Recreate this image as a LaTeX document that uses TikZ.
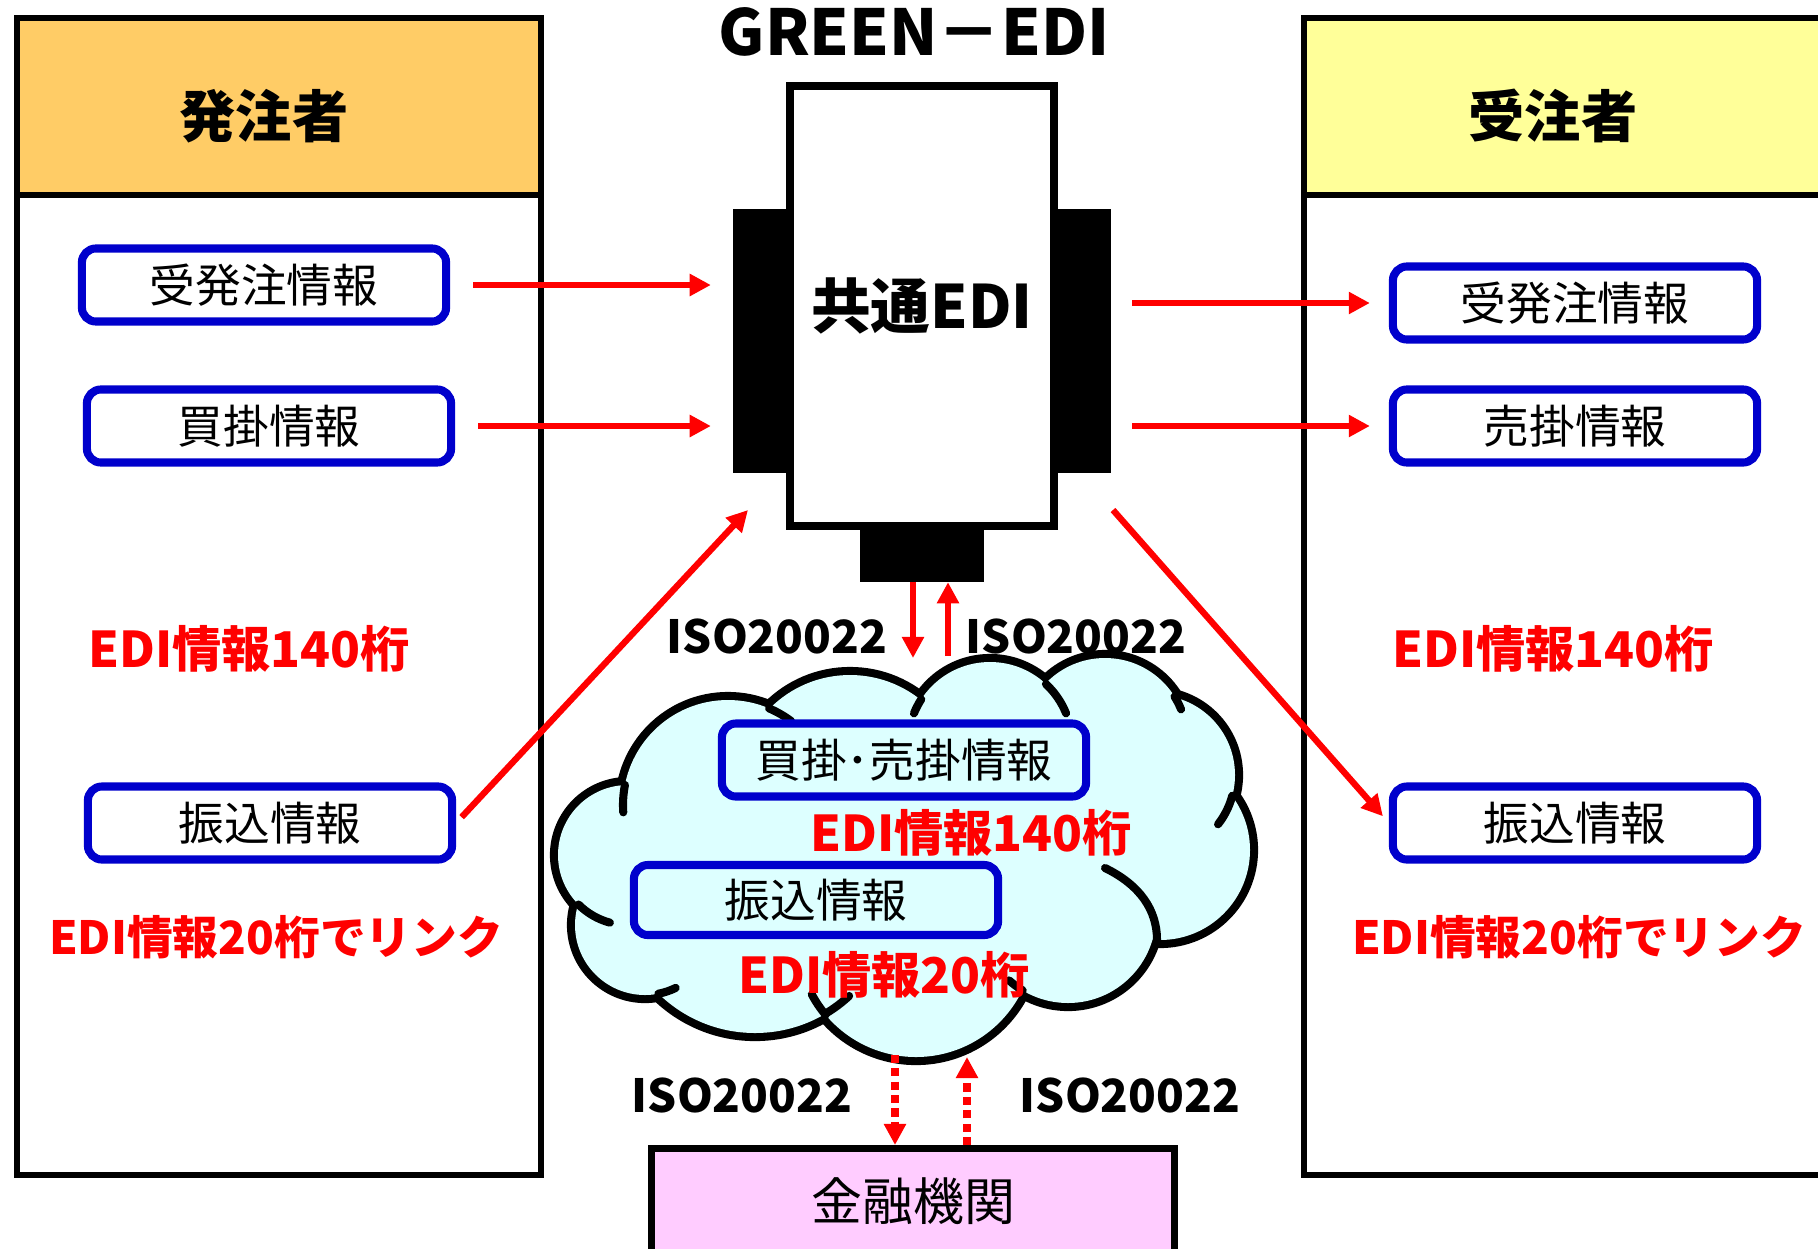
\documentclass[tikz,border=0pt]{standalone}
\usepackage{fontspec}
\usetikzlibrary{arrows.meta}
\newfontfamily\jp{Noto Sans CJK JP}
\definecolor{ordhead}{RGB}{255,204,102}
\definecolor{rcvhead}{RGB}{255,255,153}
\definecolor{infoblue}{RGB}{0,0,204}
\definecolor{cloudfill}{RGB}{221,255,255}
\definecolor{bankpink}{RGB}{255,204,255}
% puffs of the cloud: x/y/radius
\newcommand{\cloudpuffs}{728/805/105, 850/788/113, 990/744/82, 1105/740/82, 1155/775/80, 1160/850/90, 1068/915/88, 916/939/118, 755/895/138, 645/925/70, 628/855/70, 950/850/130}
% creases: x/y/radius/from/to
\newcommand{\cloudcreases}{728/805/105/-67/-53, 990/744/82/-147/-158, 990/744/82/-47/-22, 1105/740/82/-32/-22, 1155/775/80/15/38, 1068/915/88/121/132, 916/939/118/140/152, 755/895/138/59/47, 645/925/70/79/64, 628/855/70/135/105, 728/805/105/191/176}
\tikzset{
  panel/.style={draw, line width=1.7pt},
  headtext/.style={font=\jp\bfseries\fontsize{16}{16}\selectfont},
  infobox/.style={draw=infoblue, line width=2.3pt, rounded corners=4pt, minimum width=3.64cm, minimum height=0.73cm, inner sep=0pt, font=\jp\fontsize{13}{13}\selectfont},
  redlabel/.style={text=red, font=\jp\bfseries\fontsize{14}{14}\selectfont},
  linklabel/.style={redlabel, font=\jp\bfseries\fontsize{13}{13}\selectfont},
  isolabel/.style={font=\jp\bfseries\fontsize{13}{13}\selectfont},
  tab/.style={fill=black, inner sep=0pt, outer sep=0pt},
  flow/.style={red, line width=1.8pt, -{Triangle[length=6pt,width=6pt]}},
  dotflow/.style={flow, line width=2pt, dash pattern=on 2.3pt off 1.5pt},
  cloudline/.style={line width=2.3pt, line cap=round},
}
\begin{document}
\begin{tikzpicture}[x=0.01cm, y=-0.01cm]
\useasboundingbox[fill=white] (0,0) rectangle (1818,1248);

%ordering side
\fill[ordhead] (17,18) rectangle (541,195);
\draw[panel] (17,18) rectangle (541,1175);
\draw[panel] (17,195) -- (541,195);
\node[headtext] (orderer) at (264,116) {発注者};
\node[infobox] (ordA) at (264,285) {受発注情報};
\node[infobox] (ordB) at (269,426) {買掛情報};
\node[infobox] (ordC) at (270,823) {振込情報};
\node[redlabel] (ordEdiA) at (249,649) {EDI情報140桁};
\node[linklabel] (ordEdiB) at (276,937) {EDI情報20桁でリンク};

%receiving side
\fill[rcvhead] (1304,18) rectangle (1830,195);
\draw[panel] (1304,18) rectangle (1830,1175);
\draw[panel] (1304,195) -- (1830,195);
\node[headtext] (receiver) at (1553,116) {受注者};
\node[infobox] (rcvA) at (1575,303) {受発注情報};
\node[infobox] (rcvB) at (1575,426) {売掛情報};
\node[infobox] (rcvC) at (1575,823) {振込情報};
\node[redlabel] (rcvEdiA) at (1553,649) {EDI情報140桁};
\node[linklabel] (rcvEdiB) at (1579,937) {EDI情報20桁でリンク};

%GREEN-EDI hub
\node[font=\jp\bfseries\fontsize{18}{18}\selectfont] (title) at (914,32) {GREEN－EDI};
\node[draw, fill=white, line width=2.3pt, minimum width=2.64cm, minimum height=4.40cm, inner sep=0pt,
      font=\jp\bfseries\fontsize{17}{17}\selectfont] (edi) at (922,306) {共通EDI};
\node[tab, minimum width=0.53cm, minimum height=2.64cm, anchor=east] (tabL) at ([yshift=-0.35cm]edi.west) {};
\node[tab, minimum width=0.53cm, minimum height=2.64cm, anchor=west] (tabR) at ([yshift=-0.35cm]edi.east) {};
\node[tab, minimum width=1.23cm, minimum height=0.52cm, anchor=north] (tabB) at (edi.south) {};

%cloud
\foreach \cx/\cy/\rad in \cloudpuffs
  \draw[line width=4.6pt] (\cx,\cy) circle[radius=\rad];
\foreach \cx/\cy/\rad in \cloudpuffs
  \fill[cloudfill] (\cx,\cy) circle[radius=\rad];
\foreach \cx/\cy/\rad/\a/\b in \cloudcreases
  \draw[cloudline] (\cx,\cy) ++(\a:\rad) arc[start angle=\a, end angle=\b, radius=\rad];
\draw[cloudline] (1105,868) .. controls (1140,885) and (1157,910) .. (1157,940);
\node[infobox] (netA) at (904,760) {買掛･売掛情報};
\node[infobox, minimum height=0.70cm] (netB) at (816,900) {振込情報};
\node[redlabel] (netEdiA) at (971,833) {EDI情報140桁};
\node[redlabel] (netEdiB) at (884,975) {EDI情報20桁};

%bank
\node[draw, fill=bankpink, line width=2pt, minimum width=5.23cm, minimum height=1.05cm, anchor=north,
      font=\jp\fontsize{14.5}{14.5}\selectfont] (bank) at (913,1145) {金融機関};

%ISO labels
\node[isolabel] (isoA) at (777,636) {ISO20022};
\node[isolabel] (isoB) at (1076,636) {ISO20022};
\node[isolabel] (isoC) at (742,1095) {ISO20022};
\node[isolabel] (isoD) at (1130,1095) {ISO20022};

%arrows
\coordinate (inL) at (748,510);
\coordinate (outR) at (1113,510);
\coordinate (netTopIn) at (913,658);
\coordinate (netTopOut) at (948,656);
\coordinate (netBotOut) at (895,1055);
\coordinate (netBotIn) at (967,1057);
\draw[flow, shorten <=0.23cm, shorten >=0.22cm] (ordA.east) -- (ordA.east -| tabL.west);
\draw[flow, shorten <=0.23cm, shorten >=0.22cm] (ordB.east) -- (ordB.east -| tabL.west);
\draw[flow, shorten <=0.21cm, shorten >=0.19cm] (rcvA.west -| tabR.east) -- (rcvA.west);
\draw[flow, shorten <=0.21cm, shorten >=0.19cm] (rcvB.west -| tabR.east) -- (rcvB.west);
\draw[flow, shorten <=0.08cm] (ordC.east) -- (inL);
\draw[flow, shorten >=0.09cm] (outR) -- (rcvC.west);
\draw[flow] (tabB.south -| netTopIn) -- (netTopIn);
\draw[flow] (netTopOut) -- (tabB.south -| netTopOut);
\draw[dotflow] (netBotOut) -- (netBotOut |- bank.north);
\draw[dotflow] (netBotIn |- bank.north) -- (netBotIn);
\end{tikzpicture}
\end{document}
